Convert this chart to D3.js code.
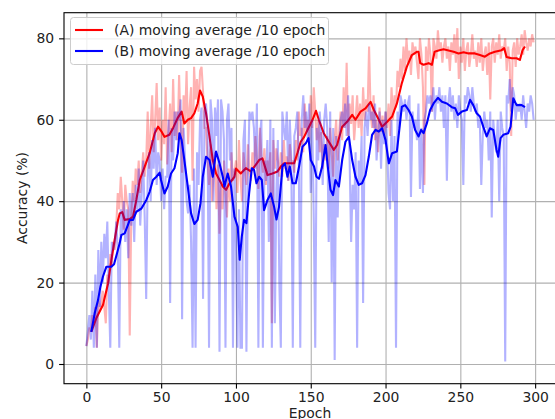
<!DOCTYPE html>
<html>
<head>
<meta charset="utf-8">
<script src="https://cdn.jsdelivr.net/npm/d3@7"></script>
<style>
  body { margin: 0; background: #fff; }
  svg { display: block; font-family: "DejaVu Sans", sans-serif; }
  .tick text { font-size: 13.9px; fill: #222; }
</style>
</head>
<body>
<script>
// tick labels
var xTicks = [0, 50, 100, 150, 200, 250, 300];
var yTicks = [0, 20, 40, 60, 80];

// raw accuracy per epoch, run A
var rawA = [
  4.4, 6, 9, 8, 12, 10, 14, 4, 16, 13,
  15, 18, 14, 10, 22, 20, 27, 24, 30, 28,
  34, 42, 38, 46, 40, 33, 44, 40, 38, 7,
  36, 45, 40, 48, 44, 50, 42, 47, 52, 46,
  50, 62, 48, 58, 66, 52, 60, 69, 55, 63,
  50, 60, 54, 68, 49, 57, 64, 52, 70, 56,
  62, 55, 71, 58, 47, 66, 60, 72, 54, 63,
  68, 45, 73, 65, 70, 62, 72, 73, 67, 58,
  58, 50, 44, 54, 40, 47, 52, 38, 49, 32,
  44, 38, 50, 42, 36, 48, 40, 52, 45, 47,
  50, 42, 55, 46, 40, 52, 48, 44, 54, 47,
  45, 52, 48, 56, 50, 43, 58, 51, 47, 53,
  44, 50, 47, 52, 10, 55, 48, 53, 50, 46,
  52, 46, 55, 48, 51, 45, 54, 49, 50, 47,
  55, 50, 62, 56, 58, 52, 64, 57, 60, 55,
  66, 58, 68, 62, 55, 60, 52, 57, 48, 54,
  50, 56, 48, 58, 52, 46, 55, 60, 50, 57,
  62, 55, 68, 58, 74, 56, 64, 59, 66, 55,
  60, 66, 58, 64, 56, 68, 60, 65, 62, 78,
  62, 58, 66, 55, 60, 52, 63, 57, 61, 56,
  62, 58, 64, 56, 68, 60, 66, 63, 72, 68,
  75, 70, 78, 72, 80, 74, 77, 71, 79, 76,
  78, 74, 70, 80, 76, 68, 44, 78, 72, 80,
  76, 62, 80, 78, 75, 82, 77, 79, 74, 78,
  80, 75, 78, 72, 79, 76, 81, 74, 82.5, 70,
  78, 74, 80, 72, 77, 79, 73, 76, 81, 75,
  77, 73, 79, 74, 80, 72, 76, 78, 71, 79,
  65, 78, 80, 74, 79, 76, 81, 75, 78, 77,
  80, 72, 78, 74, 56, 77, 79, 73, 80, 76,
  78, 81, 76, 82, 79, 77, 80, 78, 81, 79
];

// raw accuracy per epoch, run B
var rawB = [
  4.4, 8, 12, 6, 18, 4, 22, 4, 28, 14,
  30, 20, 32, 26, 35, 18, 4, 30, 28, 30,
  35, 28, 4, 38, 32, 40, 30, 38, 26, 42,
  34, 42, 30, 44, 38, 48, 34, 42, 50, 36,
  16, 46, 52, 40, 55, 48, 58, 44, 52, 50,
  40, 48, 38, 46, 46, 60, 15, 58, 50, 62,
  55, 62, 60, 65, 11, 58, 50, 40, 37, 44,
  30, 4, 48, 4, 52, 44, 60, 63, 16, 62,
  64, 58, 4, 65, 60, 40, 63, 56, 65, 3,
  65, 62, 55, 4, 60, 64, 50, 58, 4, 48,
  30, 4, 38, 4, 4, 55, 60, 3, 45, 62,
  60, 62, 58, 48, 64, 4, 56, 60, 4, 50,
  45, 55, 30, 60, 4, 58, 10, 42, 55, 20,
  4, 62, 58, 55, 62, 45, 60, 50, 4, 56,
  58, 62, 50, 4, 60, 66, 58, 62, 55, 64,
  42, 60, 36, 4, 58, 50, 62, 56, 44, 60,
  64, 58, 30, 62, 20, 58, 1, 56, 36, 52,
  60, 62, 58, 64, 56, 66, 50, 30, 44, 38,
  52, 4, 50, 44, 56, 15, 58, 62, 56, 64,
  60, 62, 58, 64, 50, 56, 62, 48, 60, 54,
  62, 55, 42, 38, 60, 40, 56, 4, 62, 58,
  66, 64, 62, 65, 60, 64, 66, 41, 62, 58,
  60, 55, 64, 43, 58, 42, 60, 62, 66, 64,
  66, 62, 68, 60, 66, 64, 68, 62, 66, 58,
  66, 45, 64, 68, 62, 66, 60, 64, 58, 66,
  62, 60, 44, 66, 64, 68, 66, 62, 68, 64,
  62, 64, 58, 60, 44, 56, 62, 58, 60, 50,
  62, 36, 60, 55, 52, 60, 40, 62, 58, 56,
  0.6, 66, 64, 70, 62, 68, 66, 60, 64, 62,
  64, 60, 66, 62, 58, 64, 62, 66, 64, 60
];

// moving average /10 epoch
var maAEpochs = [3.3, 6.7, 11.1, 14.5, 16.7, 18.9, 21.2, 22.3, 24, 25.6, 29, 31.2, 33.4, 35.7, 39, 42.3, 45.7, 47.9, 50.4, 52.2,
  55.5, 58, 61, 63.7, 65.5, 67.8, 70, 72.2, 74.4, 76, 77.8, 80, 82.3, 84.5, 86.7, 89, 91.2, 93.4, 95.7, 99,
  100, 103.2, 106.6, 109.9, 113.2, 115.5, 117.7, 121.1, 124.4, 127.8, 130, 132.2, 138.9, 141.1, 143.3, 145.6, 147.8, 151.2, 153.5, 155.4,
  158.7, 162.1, 165.4, 167.6, 171, 174.3, 177.7, 179.9, 183.3, 186.6, 190, 192.2, 195.5, 197.7, 201.1, 204.4, 207.6, 210.9, 214.2, 217.6,
  220.9, 222, 223.2, 225.4, 228.8, 231, 232.8, 235.4, 238.8, 242.1, 245.5, 248.8, 252.2, 255.5, 259.7, 263.1, 266.4, 269.8, 273.1, 277.6,
  279.3, 280.9, 284.3, 287.6, 289.8, 291.6, 293.2];
var maAValues = [7.9, 11.3, 14.5, 19.8, 25.5, 30.5, 35.4, 37, 37.3, 35.4, 35.6, 36.2, 40.3, 45.2, 48.5, 51.8, 56.7, 58.3, 57, 55.8,
  56.3, 58, 60.4, 62, 59.1, 60, 60.4, 61.6, 64, 67.2, 65.7, 61.6, 55.9, 50.1, 46.8, 45.2, 43.6, 42.8, 44.4, 46,
  48, 46.8, 48.1, 47.3, 48.9, 50.1, 50.5, 46.4, 46.8, 47.3, 48.5, 49.3, 49.3, 51.8, 54.6, 55.8, 57.5, 60, 62.2, 60,
  56.7, 54.6, 52.6, 53.8, 58.3, 59.5, 61.2, 60, 62, 62.8, 64.4, 62.4, 60, 58.3, 59.5, 60.8, 64, 69, 73, 75.9,
  76.7, 76.7, 73.9, 73.5, 73.9, 73.5, 76.7, 77, 77.3, 77, 76.7, 76.3, 76.6, 76.3, 76.3, 75.9, 75.5, 76.3, 76.7, 77.1,
  77.6, 75.4, 75.1, 75.1, 74.7, 77.1, 78];

var maBEpochs = [3.3, 5.6, 7.8, 9.4, 11.1, 13.4, 16.7, 18.5, 20.5, 22.3, 23.4, 25.6, 27.8, 29, 31.2, 33.4, 36.8, 40.1, 42.3, 44.5,
  46.8, 49, 49.9, 52.2, 54.4, 56.6, 58.9, 61.1, 62.2, 63.7, 65.5, 67.8, 70, 72.2, 74.4, 76.3, 77.8, 80, 82.3, 84.5,
  86.7, 89, 91.2, 92.3, 94.5, 96.7, 99, 101.2, 102.5, 103.9, 105.4, 107, 108.8, 110.6, 112.1, 113.7, 115.5, 117.3, 118.8, 121.1,
  123.3, 125.5, 127.1, 128.8, 131.1, 132.8, 134.4, 136, 137.8, 140, 142.2, 144.5, 146.7, 148.5, 150, 152.2, 153.8, 155.5, 157.6, 159.9,
  161.4, 163.2, 164.9, 166.5, 168.8, 171, 173.2, 175.5, 177.7, 179.9, 182.1, 184.3, 186.6, 188.8, 191, 193.3, 195.5, 197.7, 200, 202.2,
  204.4, 207.6, 208.7, 210.9, 213.1, 215.4, 217.6, 219.8, 222.1, 223.8, 225.4, 227.6, 229.8, 232.1, 235, 237.7, 241, 244.3, 246.6, 248.4,
  251, 254.4, 256.5, 258.6, 260.9, 263.1, 265.3, 267.6, 269.8, 272, 274.2, 275.3, 276.9, 278.7, 282, 283.6, 285.4, 287.6, 291, 293.2];
var maBValues = [7.9, 12.5, 15.7, 19, 21.5, 23.9, 23.9, 24.5, 27.2, 29.7, 31.7, 32.1, 34.2, 35.4, 35.4, 37.4, 38.2, 40.3, 42.3, 45.2,
  46, 47, 45.2, 41.9, 43.6, 46.8, 48.1, 51.8, 56.7, 55, 50.1, 43.6, 37, 34.4, 35.4, 39.5, 46, 50.9, 50.1, 46,
  52.2, 49.3, 46, 43.6, 46.8, 43.6, 36.2, 33.7, 25.6, 31.3, 35.4, 34.6, 41.9, 48.1, 47.7, 44.4, 46, 45.2, 37.8, 40.3,
  41.9, 38.6, 35.5, 38.6, 48.5, 49.3, 46, 48.5, 44.4, 44.4, 48.5, 53.4, 54.2, 55.5, 50.1, 48.5, 46, 45.5, 48.5, 53.8,
  48.5, 42.8, 41.5, 45.2, 43.6, 50.1, 54.6, 55.8, 50.1, 46, 44, 44.4, 46.4, 50.9, 56.3, 57.5, 57.1, 57.9, 55, 49.3,
  51.8, 52.2, 55.9, 63.2, 63.6, 62.4, 60.8, 57.5, 55.9, 57.5, 56.7, 59.1, 62.4, 64, 65.4, 64.4, 64, 63.1, 62.8, 61.2,
  62, 62.4, 64.9, 63.6, 61.6, 60.8, 58.3, 55.9, 57.9, 57.5, 52.6, 50.9, 55.5, 56.3, 56.7, 58.3, 65.3, 63.6, 63.6, 63.1];

var legendLabels = ["(A) moving average /10 epoch", "(B) moving average /10 epoch"];

// LAYOUT
var W = 555, H = 419;
var ax = { left: 64, right: 556, top: 12.7, bottom: 383.7 };

var svg = d3.select("body").append("svg")
    .attr("width", W)
    .attr("height", H);

var x = d3.scaleLinear().domain([-14.95, 313.95]).range([ax.left, ax.right]);
var y = d3.scaleLinear().domain([-4.84, 86.3]).range([ax.bottom, ax.top]);

svg.append("clipPath").attr("id", "clip")
    .append("rect")
    .attr("x", ax.left).attr("y", ax.top)
    .attr("width", ax.right - ax.left).attr("height", ax.bottom - ax.top);

// grid
svg.append("g")
    .attr("transform", "translate(0," + ax.bottom + ")")
    .call(d3.axisBottom(x).tickValues(xTicks).tickSize(-(ax.bottom - ax.top)).tickFormat(""))
    .call(g => g.select(".domain").remove())
    .call(g => g.selectAll("line").attr("stroke", "#b0b0b0").attr("stroke-width", 1.1));
svg.append("g")
    .attr("transform", "translate(" + ax.left + ",0)")
    .call(d3.axisLeft(y).tickValues(yTicks).tickSize(-(ax.right - ax.left)).tickFormat(""))
    .call(g => g.select(".domain").remove())
    .call(g => g.selectAll("line").attr("stroke", "#b0b0b0").attr("stroke-width", 1.1));

var plot = svg.append("g").attr("clip-path", "url(#clip)");

var rawLine = d3.line().x((d, i) => x(i)).y(d => y(d));
var maLine = d3.line().x(d => x(d[0])).y(d => y(d[1]));

var maA = maAEpochs.map((e, i) => [e, maAValues[i]]);
var maB = maBEpochs.map((e, i) => [e, maBValues[i]]);

plot.append("path").datum(rawA)
    .attr("d", rawLine)
    .attr("fill", "none").attr("stroke", "#ff0000")
    .attr("stroke-opacity", 0.3).attr("stroke-width", 2.1);
plot.append("path").datum(maA)
    .attr("d", maLine)
    .attr("fill", "none").attr("stroke", "#ff0000")
    .attr("stroke-width", 2.1).attr("stroke-linejoin", "round");
plot.append("path").datum(rawB)
    .attr("d", rawLine)
    .attr("fill", "none").attr("stroke", "#0000ff")
    .attr("stroke-opacity", 0.3).attr("stroke-width", 2.1);
plot.append("path").datum(maB)
    .attr("d", maLine)
    .attr("fill", "none").attr("stroke", "#0000ff")
    .attr("stroke-width", 2.1).attr("stroke-linejoin", "round");

// spines
svg.append("rect")
    .attr("x", ax.left).attr("y", ax.top)
    .attr("width", ax.right - ax.left).attr("height", ax.bottom - ax.top)
    .attr("fill", "none").attr("stroke", "#000").attr("stroke-width", 1.1);

// axes
svg.append("g")
    .attr("transform", "translate(0," + ax.bottom + ")")
    .call(d3.axisBottom(x).tickValues(xTicks).tickSize(4.9).tickPadding(3.4))
    .call(g => g.select(".domain").remove())
    .call(g => g.selectAll("line").attr("stroke", "#000").attr("stroke-width", 1.1))
    .call(g => g.selectAll("text").attr("font-family", "DejaVu Sans"));
svg.append("g")
    .attr("transform", "translate(" + ax.left + ",0)")
    .call(d3.axisLeft(y).tickValues(yTicks).tickSize(4.9).tickPadding(4.9))
    .call(g => g.select(".domain").remove())
    .call(g => g.selectAll("line").attr("stroke", "#000").attr("stroke-width", 1.1))
    .call(g => g.selectAll("text").attr("font-family", "DejaVu Sans"));

svg.append("text")
    .attr("x", 310).attr("y", 417.5)
    .attr("text-anchor", "middle")
    .style("font-size", "13.9px").style("fill", "#222")
    .text("Epoch");
svg.append("text")
    .attr("transform", "translate(27,198) rotate(-90)")
    .attr("text-anchor", "middle")
    .style("font-size", "13.9px").style("fill", "#222")
    .text("Accuracy (%)");

// legend
var legend = svg.append("g");
legend.append("rect")
    .attr("x", 70.5).attr("y", 17.5)
    .attr("width", 258).attr("height", 47)
    .attr("rx", 3)
    .attr("fill", "#fff").attr("fill-opacity", 0.8)
    .attr("stroke", "#cccccc").attr("stroke-width", 1);
var legendColors = ["#ff0000", "#0000ff"];
legendLabels.forEach(function (lab, i) {
    var ly = 30 + i * 21;
    legend.append("line")
        .attr("x1", 75).attr("x2", 103)
        .attr("y1", ly).attr("y2", ly)
        .attr("stroke", legendColors[i]).attr("stroke-width", 2.1);
    legend.append("text")
        .attr("x", 114).attr("y", ly + 5)
        .style("font-size", "13.9px").style("fill", "#222")
        .text(lab);
});
</script>
</body>
</html>
